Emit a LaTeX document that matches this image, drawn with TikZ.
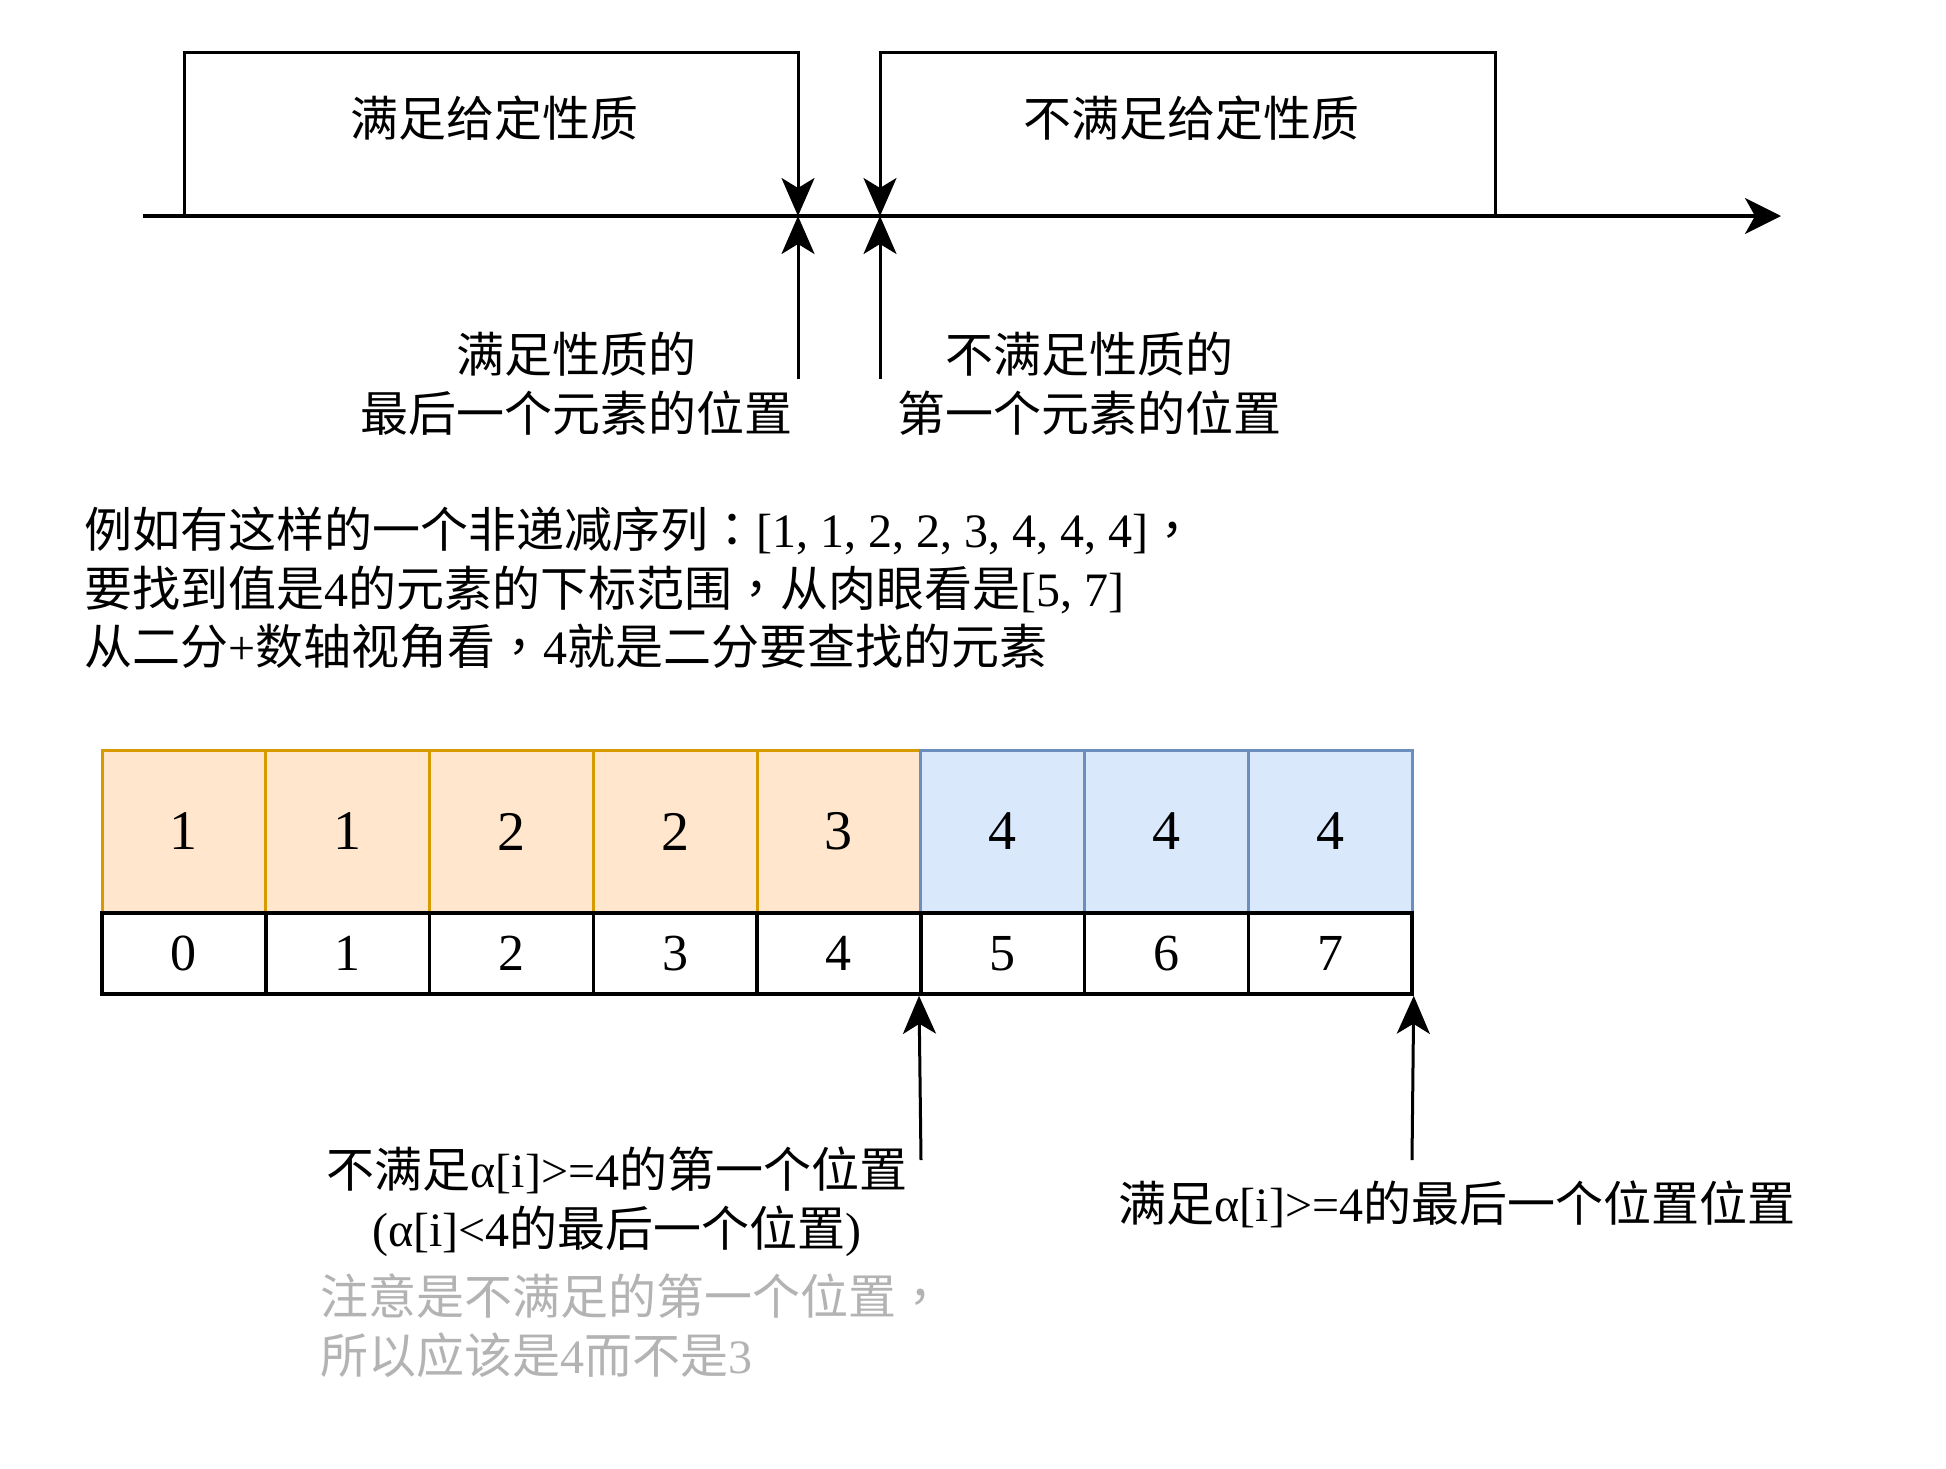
\documentclass[tikz,border=0pt]{standalone}
\usepackage{fontspec}
\setmainfont{Liberation Serif}
\newfontfamily\cjk{Noto Sans CJK SC}
\newfontfamily\cjktc{Noto Sans CJK TC}
\usetikzlibrary{arrows.meta}
\definecolor{orfill}{HTML}{FFE6CC}
\definecolor{ordraw}{HTML}{D79B00}
\definecolor{blfill}{HTML}{DAE8FC}
\definecolor{bldraw}{HTML}{6C8EBF}
\definecolor{notegrey}{HTML}{B3B3B3}
\newcommand\latn[1]{{\rmfamily #1}}
\newcommand\tcp[1]{{\cjktc #1}}
\begin{document}
\begin{tikzpicture}[x=1pt,y=-1pt,
  txt/.style={font=\cjk\fontsize{48}{59}\selectfont, inner sep=0pt},
  arr/.style={line width=3pt, -{Stealth[length=38pt,width=33pt,inset=10pt]}},
  axisline/.style={line width=3.5pt, -{Stealth[length=36pt,width=36pt,inset=10pt]}},
  cellbase/.style={minimum width=163.75pt, inner sep=0pt, font=\rmfamily\fontsize{56}{60}\selectfont},
  orc/.style={cellbase, draw=ordraw, fill=orfill, line width=3pt, minimum height=163pt},
  blc/.style={cellbase, draw=bldraw, fill=blfill, line width=3pt, minimum height=163pt},
  idx/.style={cellbase, draw=black, fill=white, line width=3.5pt, minimum height=81pt, font=\rmfamily\fontsize{52}{56}\selectfont}]
\fill[white] (0,0) rectangle (1946,1468);
\useasboundingbox (0,0) rectangle (1946,1468);

% number line
\coordinate (axL) at (143,216);
\coordinate (axR) at (1781,216);
\draw[axisline] (axL) -- (axR);

% left region
\coordinate (b1a) at (184,216);
\coordinate (b1b) at (184,52);
\coordinate (b1c) at (798,52);
\coordinate (m1) at (798,216);
\draw[arr] (b1a) -- (b1b) -- (b1c) -- (m1);
% right region
\coordinate (b2a) at (1495,216);
\coordinate (b2b) at (1495,52);
\coordinate (b2c) at (880,52);
\coordinate (m2) at (880,216);
\draw[arr] (b2a) -- (b2b) -- (b2c) -- (m2);

\node[txt] (t1) at (494,118) {满足给定性质};
\node[txt] (t2) at (1191,118) {不满足给定性质};

\coordinate (u1) at (798,379);
\coordinate (u2) at (880,379);
\draw[arr] (u1) -- (m1);
\draw[arr] (u2) -- (m2);

\node[txt,align=center] (l1) at (576,384) {满足性质的\\最后一个元素的位置};
\node[txt,align=center] (l2) at (1089,384) {不满足性质的\\第一个元素的位置};

% paragraph
\node[txt,align=left,anchor=west,font=\cjk\fontsize{48}{58.5}\selectfont] (para) at (84,588)
 {例如有这样的一个非递减序列\tcp{：}\latn{[1, 1, 2, 2, 3, 4, 4, 4]}\tcp{，}\\
  要找到值是\latn{4}的元素的下标范围\tcp{，}从肉眼看是\latn{[5, 7]}\\
  从二分\latn{+}数轴视角看\tcp{，}\latn{4}就是二分要查找的元素};

% array
\foreach \v/\s [count=\i from 0] in {1/orc,1/orc,2/orc,2/orc,3/orc,4/blc,4/blc,4/blc}
  \node[\s] (v\i) at ({183.875+163.75*\i},831.5) {\v};
\foreach \i in {0,...,7}
  \node[idx] (i\i) at ({183.875+163.75*\i},953.5) {\i};

% pointers
\coordinate (c1) at (921,1160);
\coordinate (c2) at (1412,1160);
\draw[arr] (c1) -- (i5.south west);
\draw[arr] (c2) -- (i7.south east);

\node[txt,align=center] (la) at (617,1202)
 {不满足\latn{α[i]>=4}的第一个位置\\\latn{(α[i]<4}的最后一个位置\latn{)}};
\node[txt,align=left,anchor=west,text=notegrey] (note) at (320,1326)
 {注意是不满足的第一个位置\tcp{，}\\所以应该是\latn{4}而不是\latn{3}};
\node[txt] (lb) at (1457,1204) {满足\latn{α[i]>=4}的最后一个位置位置};
\end{tikzpicture}
\end{document}
